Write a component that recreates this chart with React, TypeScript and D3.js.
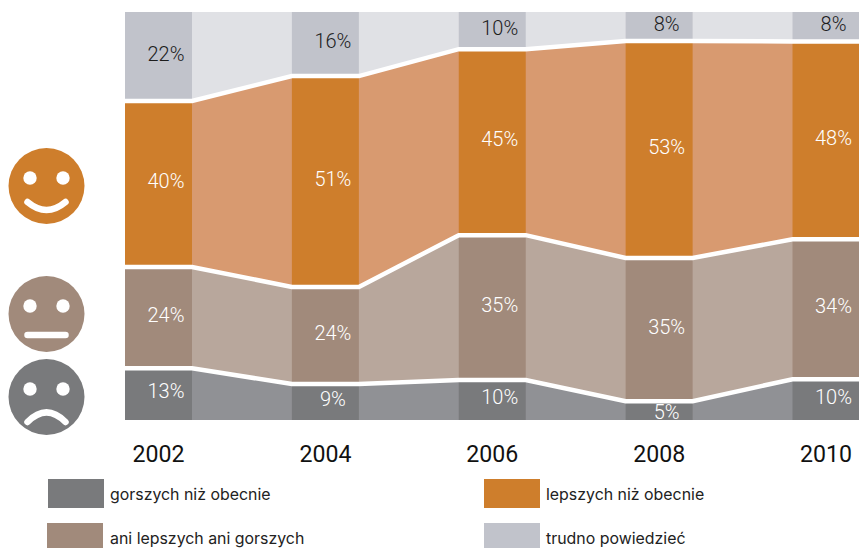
import React from "react";
import * as d3 from "d3";

const years = ["2002", "2004", "2006", "2008", "2010"];
const seriesNames = ["worse", "neutral", "better", "unknown"];
const worse = [12.7, 8.8, 9.8, 4.6, 10];
const neutral = [24.8, 23.8, 35.5, 35.1, 34.3];
const better = [40.7, 51.7, 45.6, 53.2, 48.5];
const unknown = [21.8, 15.7, 9.1, 7.1, 7.2];
const worseLabels = ["13%", "9%", "10%", "5%", "10%"];
const neutralLabels = ["24%", "24%", "35%", "35%", "34%"];
const betterLabels = ["40%", "51%", "45%", "53%", "48%"];
const unknownLabels = ["22%", "16%", "10%", "8%", "8%"];
const legendWorse = "gorszych niż obecnie";
const legendNeutral = "ani lepszych ani gorszych";
const legendBetter = "lepszych niż obecnie";
const legendUnknown = "trudno powiedzieć";

const solid = ["#797a7c", "#a18a7b", "#ce7e2c", "#c1c3cb"];
const soft = ["#909195", "#b8a79c", "#d89a70", "#e0e1e5"];
const labelColors = ["#ffffff", "#ffffff", "#ffffff", "#1c1c1c"];
const valueFont = "Roboto, sans-serif";
const legendFont = "Inter, sans-serif";

const rows = years.map((year, i) => ({
  year,
  worse: worse[i],
  neutral: neutral[i],
  better: better[i],
  unknown: unknown[i],
}));
const labels = [worseLabels, neutralLabels, betterLabels, unknownLabels];

const BAR = 67;
const x = d3.scalePoint<string>().domain(years).range([158.5, 826]);
const y = d3.scaleLinear().domain([0, 100]).range([420, 12]);
const stacked = d3.stack<any>().keys(seriesNames)(rows);

// Each stratum runs flat across a bar, then straight to the next bar.
const expand = (s: any[]) =>
  s.flatMap((d, i) => [
    { px: x(years[i])! - BAR / 2, low: y(d[0]), high: y(d[1]) },
    { px: x(years[i])! + BAR / 2, low: y(d[0]), high: y(d[1]) },
  ]);
const band = d3
  .area<any>()
  .x((p) => p.px)
  .y0((p) => p.low)
  .y1((p) => p.high);
const edge = d3
  .line<any>()
  .x((p) => p.px)
  .y((p) => p.high);

function face(cx: number, cy: number, fill: string, mood: number) {
  const mouth =
    mood === 0
      ? `M${cx - 19},${cy + 21}H${cx + 19}`
      : mood > 0
      ? `M${cx - 19},${cy + 16}Q${cx},${cy + 32} ${cx + 19},${cy + 16}`
      : `M${cx - 19},${cy + 25}Q${cx},${cy + 6} ${cx + 19},${cy + 25}`;
  return (
    <g key={fill}>
      <circle cx={cx} cy={cy} r={38} fill={fill} />
      <circle cx={cx - 16.5} cy={cy - 8} r={6.7} fill="#fff" />
      <circle cx={cx + 16.5} cy={cy - 8} r={6.7} fill="#fff" />
      <path d={mouth} fill="none" stroke="#fff" strokeWidth={6.5} strokeLinecap="round" />
    </g>
  );
}

const legend = [
  { color: solid[0], text: legendWorse, sx: 48, sy: 479, sh: 29, tx: 110, ty: 500 },
  { color: solid[1], text: legendNeutral, sx: 47, sy: 523, sh: 25, tx: 110, ty: 544 },
  { color: solid[2], text: legendBetter, sx: 484, sy: 479, sh: 29, tx: 546, ty: 500 },
  { color: solid[3], text: legendUnknown, sx: 484, sy: 523, sh: 25, tx: 546, ty: 544 },
];

export default function App() {
  return (
    <svg
      width={859}
      height={548}
      viewBox="0 0 859 548"
      style={{ position: "absolute", left: 0, top: 0, background: "#fff" }}
    >
      {stacked.map((s, k) => (
        <path key={s.key} d={band(expand(s as any))!} fill={soft[k]} />
      ))}
      {stacked.map((s, k) =>
        s.map((d, i) => (
          <rect
            key={s.key + i}
            x={x(years[i])! - BAR / 2}
            width={BAR}
            y={y(d[1])}
            height={y(d[0]) - y(d[1])}
            fill={solid[k]}
          />
        ))
      )}
      {stacked.slice(0, 3).map((s) => (
        <path key={s.key} d={edge(expand(s as any))!} fill="none" stroke="#fff" strokeWidth={4.5} />
      ))}
      {stacked.map((s, k) =>
        s.map((d, i) => {
          const h = y(d[0]) - y(d[1]);
          return (
            <text
              key={s.key + i}
              x={x(years[i])! + 7.5}
              y={(y(d[0]) + y(d[1])) / 2 + (h < 25 ? 1.5 : -3)}
              dy="0.36em"
              textAnchor="middle"
              fontFamily={valueFont}
              fontWeight={300}
              fontSize={20}
              fill={labelColors[k]}
            >
              {labels[k][i]}
            </text>
          );
        })
      )}
      {years.map((yr) => (
        <text
          key={yr}
          x={x(yr)!}
          y={462}
          textAnchor="middle"
          fontFamily="Roboto, sans-serif"
          fontSize={24}
          textLength={52}
          lengthAdjust="spacingAndGlyphs"
          fill="#111"
        >
          {yr}
        </text>
      ))}
      {face(46.5, 186, solid[2], 1)}
      {face(46.5, 314, solid[1], 0)}
      {face(46.5, 397, solid[0], -1)}
      {legend.map((l) => (
        <g key={l.text}>
          <rect x={l.sx} y={l.sy} width={56} height={l.sh} fill={l.color} />
          <text x={l.tx} y={l.ty} fontFamily={legendFont} fontSize={15.9} fill="#222">
            {l.text}
          </text>
        </g>
      ))}
    </svg>
  );
}
